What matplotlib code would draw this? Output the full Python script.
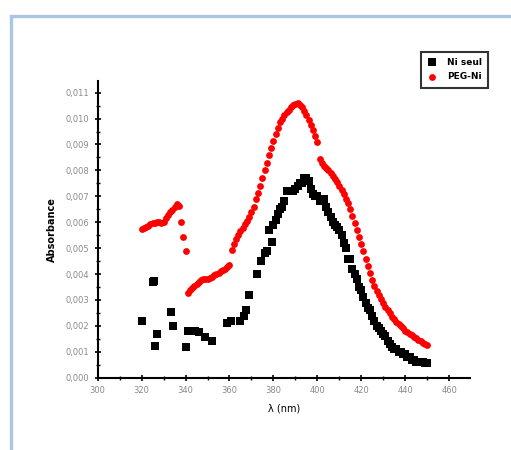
import matplotlib
matplotlib.use("Agg")
import matplotlib.pyplot as plt
from matplotlib.patches import Rectangle
from matplotlib.ticker import MultipleLocator, FuncFormatter

# Ni seul (black squares)
ni_x = [320, 325.3, 325.6, 326.1, 327.1, 333.2, 334.1, 340.2, 341, 342, 343, 344.5, 346,
        348.8, 352.2, 358.7, 360.6, 364.8, 366.5, 367.5, 369, 372.3, 374.3, 376, 377,
        378, 379.2, 380, 381, 382, 383, 384, 385, 386, 387, 388, 389, 390, 391, 392, 393,
        394, 395, 396, 397, 398, 399, 400, 401, 402, 403, 404, 405, 406, 407, 408, 409,
        410, 411, 412, 413, 414, 415, 416, 417, 418, 419, 420, 421, 422, 423, 424, 425,
        426, 427, 428, 429, 430, 431, 432, 433, 434, 435, 436, 437, 438, 439, 440, 441,
        442, 443, 444, 445, 446, 447, 448, 449, 450]
ni_y = [0.0022, 0.0037, 0.00372, 0.00124, 0.0017, 0.00252, 0.0020, 0.0012, 0.0018, 0.0018,
        0.0018, 0.0018, 0.00175, 0.00156, 0.0014, 0.0021, 0.0022, 0.0022, 0.0024, 0.0026,
        0.0032, 0.0040, 0.0045, 0.0048, 0.0049, 0.0057, 0.00525, 0.0059, 0.0061, 0.0063,
        0.0065, 0.0066, 0.0068, 0.0072, 0.0072, 0.0072, 0.0072, 0.0073, 0.0074, 0.0075,
        0.0075, 0.0077, 0.0077, 0.0076, 0.0073, 0.0071, 0.0070, 0.0070, 0.0068, 0.0069,
        0.0069, 0.0066, 0.0064, 0.0062, 0.0060, 0.0059, 0.0058, 0.0057, 0.0055, 0.0052,
        0.0050, 0.0046, 0.0046, 0.0042, 0.0040, 0.0038, 0.0035, 0.0034, 0.0031, 0.0029,
        0.0027, 0.0026, 0.0024, 0.0022, 0.0020, 0.0019, 0.0018, 0.0017, 0.0016, 0.0014,
        0.0013, 0.0012, 0.0011, 0.0011, 0.0010, 0.0010, 0.0009, 0.0009, 0.0008, 0.0008,
        0.0007, 0.0007, 0.0006, 0.0006, 0.0006, 0.0006, 0.00055, 0.00055]

# PEG-Ni (red circles)
peg_x = [320, 321, 322, 323, 324, 325, 326, 327, 328, 329, 330, 331, 332, 333, 334, 335,
         336, 337, 338, 339, 340,
         341, 342, 343, 344, 345, 346, 347, 348, 349, 350, 351, 352, 353, 354, 355, 356,
         357, 358, 359, 360,
         361, 362, 363, 364, 365, 366, 367, 368, 369, 370, 371, 372, 373, 374, 375, 376,
         377, 378, 379, 380, 381, 382, 383, 384, 385, 386, 387, 388, 389, 390, 391, 392,
         393, 394, 395, 396, 397, 398, 399, 400,
         401, 402, 403, 404, 405, 406, 407, 408, 409, 410, 411, 412, 413, 414, 415, 416,
         417, 418, 419, 420, 421, 422, 423, 424, 425, 426, 427, 428, 429, 430, 431, 432,
         433, 434, 435, 436, 437, 438, 439, 440, 441, 442, 443, 444, 445, 446, 447, 448,
         449, 450]
peg_y = [0.00573, 0.00578, 0.00580, 0.00585, 0.00592, 0.00598, 0.00598, 0.00600, 0.00602,
         0.00598, 0.00602, 0.00615, 0.00628, 0.00640, 0.00648, 0.00660, 0.00670, 0.00662,
         0.00600, 0.00542, 0.00490,
         0.00326, 0.00338, 0.00346, 0.00352, 0.00360, 0.00368, 0.00376, 0.00380, 0.00380,
         0.00382, 0.00385, 0.00390, 0.00395, 0.00400, 0.00405, 0.00410, 0.00415, 0.00420,
         0.00428, 0.00436,
         0.00494, 0.00515, 0.00535, 0.00552, 0.00565, 0.00578, 0.00592, 0.00605, 0.00620,
         0.00638, 0.00660, 0.00688, 0.00712, 0.00740, 0.00770, 0.00800, 0.00828, 0.00858,
         0.00888, 0.00915, 0.00942, 0.00965, 0.00985, 0.01000, 0.01012, 0.01025, 0.01035,
         0.01045, 0.01052, 0.01058, 0.01060, 0.01054, 0.01045, 0.01030, 0.01012, 0.00995,
         0.00975, 0.00955, 0.00932, 0.00910,
         0.00845, 0.00830, 0.00818, 0.00808, 0.00800, 0.00790, 0.00780, 0.00768, 0.00755,
         0.00740, 0.00725, 0.00708, 0.00690, 0.00673, 0.00650, 0.00625, 0.00598, 0.00570,
         0.00544, 0.00515, 0.00488, 0.00460, 0.00430, 0.00405, 0.00378, 0.00355, 0.00335,
         0.00318, 0.00302, 0.00288, 0.00274, 0.00260, 0.00248, 0.00236, 0.00225, 0.00216,
         0.00207, 0.00198, 0.00190, 0.00182, 0.00176, 0.00170, 0.00164, 0.00158, 0.00152,
         0.00146, 0.00140, 0.00135, 0.00130, 0.00126]

fig = plt.figure(figsize=(5.11, 4.5), dpi=100)
fig.patch.set_facecolor("white")

# light blue frame around the figure
fig.patches.append(Rectangle((11 / 511, -0.1), 1.2, 0.1 + (450 - 16) / 450,
                             transform=fig.transFigure, fill=False,
                             edgecolor="#abc5e6", linewidth=2.4))

ax = fig.add_axes([97.7 / 511, (450 - 377.7) / 450, (470 - 97.7) / 511, (377.7 - 81) / 450])

ax.scatter(ni_x, ni_y, marker="s", s=28, color="black", linewidths=0, label="Ni seul", zorder=3)
ax.scatter(peg_x, peg_y, marker="o", s=24, color="red", linewidths=0, label="PEG-Ni", zorder=3)

ax.set_xlim(300, 469.5)
ax.set_ylim(0, 0.01145)

for side in ("top", "right"):
    ax.spines[side].set_visible(False)
for side in ("left", "bottom"):
    ax.spines[side].set_linewidth(1.5)

ax.xaxis.set_major_locator(MultipleLocator(20))
ax.xaxis.set_minor_locator(MultipleLocator(10))
ax.yaxis.set_major_locator(MultipleLocator(0.001))
ax.yaxis.set_minor_locator(MultipleLocator(0.0005))
ax.yaxis.set_major_formatter(FuncFormatter(lambda v, p: f"{v:.3f}".replace(".", ",")))
ax.tick_params(which="major", direction="inout", length=5, width=1.2,
               labelsize=6, labelcolor="#8a8a8a")
ax.tick_params(which="minor", direction="inout", length=3, width=1)

ax.set_xlabel("λ (nm)", fontsize=7, labelpad=6)
ax.set_ylabel("Absorbance", fontsize=7, fontweight="bold", labelpad=6)

leg = fig.legend(loc="upper right", bbox_to_anchor=(493 / 511, 1 - 47 / 450),
                 fontsize=6.5, frameon=True, fancybox=False, edgecolor="black",
                 handletextpad=1.2, borderpad=0.7, labelspacing=0.6, handlelength=1)
leg.get_frame().set_linewidth(1.5)
for t in leg.get_texts():
    t.set_fontweight("bold")

fig.savefig("out.png", dpi=100)
